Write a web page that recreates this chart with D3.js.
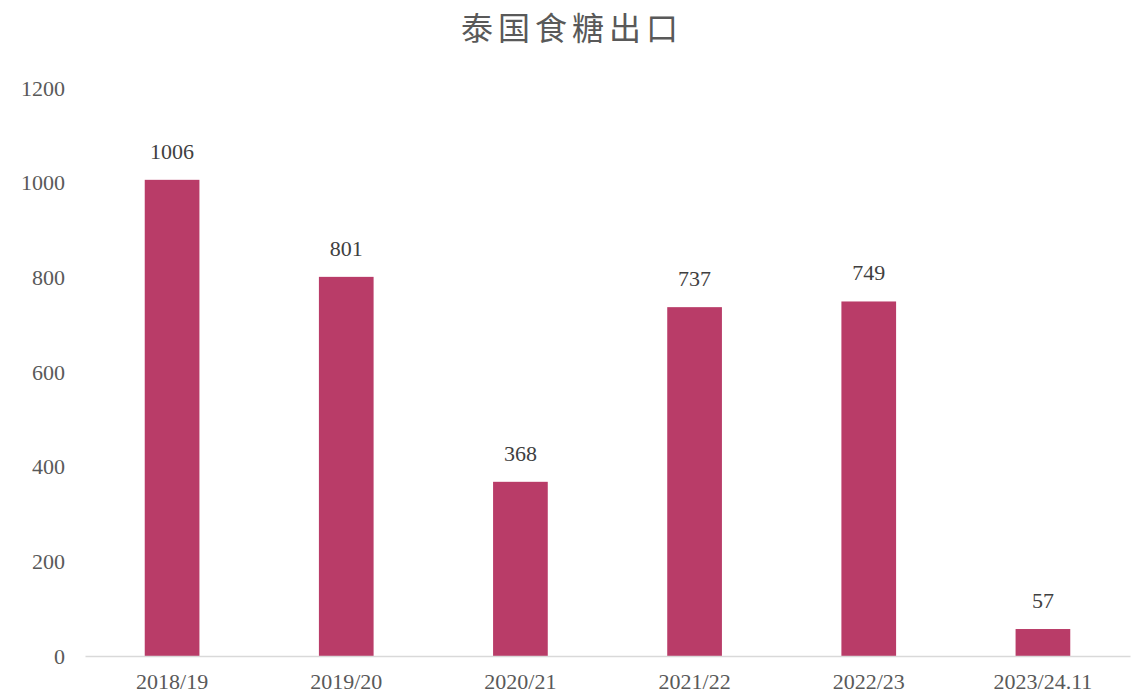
<!DOCTYPE html>
<html><head><meta charset="utf-8">
<script src="https://cdn.jsdelivr.net/npm/d3@7"></script>
<style>body{margin:0;background:#fff;}svg{display:block;}</style>
</head><body>
<svg id="chart" width="1141" height="697"></svg>
<script>
const categories = ["2018/19","2019/20","2020/21","2021/22","2022/23","2023/24.11"];
const values = [1006, 801, 368, 737, 749, 57];
const yTicks = [0,200,400,600,800,1000,1200];
const title = "泰国食糖出口";

const W=1141,H=697;
const m={left:85,right:11,top:88,bottom:41};
const svg=d3.select("#chart");
const x=d3.scaleBand().domain(categories).range([m.left,W-m.right]).paddingInner(0.686).paddingOuter(0.343);
const y=d3.scaleLinear().domain([0,1200]).range([H-m.bottom,m.top]);
const serif="'Liberation Serif','DejaVu Serif',serif";
const txt="#595959";

svg.append("text").attr("x",572).attr("y",40).attr("text-anchor","middle")
  .attr("font-family","'Noto Sans CJK SC',sans-serif").attr("font-size",32).attr("letter-spacing",5)
  .attr("fill","#595959").text(title);

const ya=svg.append("g").attr("transform",`translate(${m.left},0)`)
  .call(d3.axisLeft(y).tickValues(yTicks).tickSize(0).tickPadding(20).tickFormat(d3.format("d")));
ya.select(".domain").remove();
ya.selectAll("text").attr("font-family",serif).attr("font-size",22).attr("fill",txt);

svg.append("g").selectAll("rect").data(values).join("rect")
  .attr("x",(d,i)=>x(categories[i])).attr("width",x.bandwidth())
  .attr("y",d=>y(d)).attr("height",d=>y(0)-y(d)).attr("fill","#B93C68");

const xa=svg.append("g").attr("transform",`translate(0,${y(0)})`)
  .call(d3.axisBottom(x).tickSize(0).tickPadding(17));
xa.select(".domain").attr("stroke","#d9d9d9").attr("stroke-width",1.5);
xa.selectAll("text").attr("font-family",serif).attr("font-size",22).attr("fill",txt);

svg.append("g").selectAll("text").data(values).join("text")
  .attr("x",(d,i)=>x(categories[i])+x.bandwidth()/2).attr("y",d=>y(d)-21)
  .attr("text-anchor","middle").attr("font-family",serif).attr("font-size",22).attr("fill","#404040")
  .text(d=>d);
</script>
</body></html>
